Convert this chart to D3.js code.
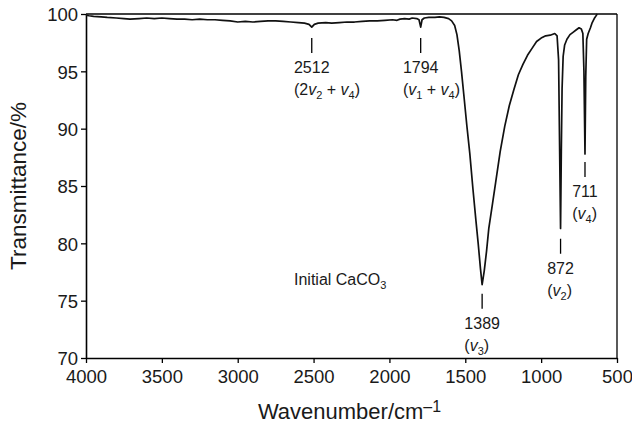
<!DOCTYPE html>
<html><head><meta charset="utf-8">
<script src="https://cdn.jsdelivr.net/npm/d3@7"></script>
<style>
html,body{margin:0;padding:0;background:#fff;}
svg{display:block;font-family:"Liberation Sans",Arial,Helvetica,sans-serif;}
</style></head>
<body>
<svg id="chart" width="632" height="430"></svg>
<script>
// ---- data ----
const wavenumbers = [4000,3980,3950,3900,3860,3800,3750,3710,3650,3600,3550,3500,3450,3400,3350,3300,3250,3200,3150,3100,3050,3000,2950,2900,2850,2800,2750,2700,2650,2600,2560,2530,2512,2495,2470,2420,2380,2330,2280,2230,2180,2130,2080,2030,1980,1950,1930,1900,1870,1850,1820,1805,1794,1785,1770,1740,1700,1670,1640,1610,1590,1570,1555,1540,1525,1510,1490,1470,1450,1430,1415,1400,1389,1375,1360,1345,1320,1300,1270,1240,1210,1180,1150,1120,1090,1060,1030,1000,970,940,910,895,885,878,872,867,862,855,845,830,810,790,770,750,735,725,718,711,706,700,690,675,665,650,635,630];
const transmittance = [99.9,99.85,99.8,99.75,99.7,99.65,99.6,99.55,99.6,99.65,99.6,99.65,99.6,99.55,99.55,99.5,99.55,99.5,99.5,99.45,99.4,99.3,99.35,99.3,99.35,99.4,99.4,99.35,99.3,99.25,99.2,99.1,98.85,99.1,99.2,99.25,99.2,99.25,99.3,99.3,99.35,99.4,99.4,99.45,99.5,99.45,99.55,99.6,99.55,99.65,99.6,99.5,98.85,99.5,99.65,99.7,99.7,99.75,99.7,99.6,99.4,99.0,98.2,96.8,95.0,93.0,90.3,87.8,84.8,82.0,80.0,77.8,76.4,77.6,79.3,81.3,83.5,85.3,88.0,90.2,92.0,93.4,94.7,95.6,96.4,97.0,97.6,97.9,98.1,98.15,98.3,98.1,96.0,88.0,81.3,88.0,93.5,96.3,97.3,97.8,98.2,98.4,98.6,98.8,98.7,98.3,95.0,87.8,94.5,97.8,98.3,98.8,99.2,99.6,99.9,100];
const xTickValues = [4000,3500,3000,2500,2000,1500,1000,500];
const yTickValues = [70,75,80,85,90,95,100];
const peakPositions = [2512,1794,1389,872,711];
const peakNumbers = ["2512","1794","1389","872","711"];
// vibrational mode labels: [text, kind] kind: n normal, i italic, s subscript
const peakModes = [
  [["(2","n"],["v","i"],["2","s"],[" + ","n"],["v","i"],["4","s"],[")","n"]],
  [["(","n"],["v","i"],["1","s"],[" + ","n"],["v","i"],["4","s"],[")","n"]],
  [["(","n"],["v","i"],["3","s"],[")","n"]],
  [["(","n"],["v","i"],["2","s"],[")","n"]],
  [["(","n"],["v","i"],["4","s"],[")","n"]]
];
const xTitle = "Wavenumber/cm";
const yTitle = "Transmittance/%";
const sampleLabel = "Initial CaCO";

// ---- layout ----
const W = 632, H = 430;
const m = {left:86, right:15, top:14, bottom:72};
const svg = d3.select("#chart");
const x = d3.scaleLinear().domain([4000,500]).range([m.left, W - m.right]);
const y = d3.scaleLinear().domain([70,100]).range([H - m.bottom, m.top]);

// frame (top & right)
svg.append("line").attr("x1",x(4000)).attr("x2",x(500)).attr("y1",y(100)).attr("y2",y(100))
  .attr("stroke","#000").attr("stroke-width",1.6);
svg.append("line").attr("x1",x(500)).attr("x2",x(500)).attr("y1",y(100)).attr("y2",y(70))
  .attr("stroke","#000").attr("stroke-width",1.3);

// axes
const xAxis = svg.append("g").attr("transform",`translate(0,${y(70)})`)
  .call(d3.axisBottom(x).tickValues(xTickValues).tickFormat(d3.format("d")).tickSize(5).tickSizeOuter(0).tickPadding(7));
const yAxis = svg.append("g").attr("transform",`translate(${x(4000)},0)`)
  .call(d3.axisLeft(y).tickValues(yTickValues).tickFormat(d3.format("d")).tickSize(5).tickSizeOuter(0).tickPadding(3));
[xAxis,yAxis].forEach(g=>{
  g.select(".domain").attr("stroke","#000").attr("stroke-width",1.6);
  g.selectAll(".tick line").attr("stroke","#000").attr("stroke-width",1.3);
  g.selectAll(".tick text").attr("fill","#1a1a1a").attr("font-size",18.5)
   .attr("font-family","'Liberation Sans',Arial,sans-serif");
});
yAxis.selectAll(".tick text").attr("dy","0.36em");

// titles
svg.append("text").attr("x",(m.left + W - m.right)/2 - 2).attr("y",419).attr("text-anchor","middle")
  .attr("font-size",22).attr("fill","#1a1a1a")
  .call(t=>{t.append("tspan").text(xTitle); t.append("tspan").attr("font-size",16).attr("dy",-7).text("\u20131");});
svg.append("text").attr("transform",`translate(26,${(m.top + H - m.bottom)/2}) rotate(-90)`)
  .attr("text-anchor","middle").attr("font-size",22.5).attr("fill","#1a1a1a").text(yTitle);

// spectrum
const line = d3.line().x((d,i)=>x(wavenumbers[i])).y(d=>y(d));
svg.append("path").datum(transmittance).attr("d",line).attr("fill","none")
  .attr("stroke","#111").attr("stroke-width",1.7).attr("stroke-linejoin","round");

// annotations (tick start in transmittance units, layout only)
const annTop = [97.9,97.9,75.6,80.4,87.1];
const tickLen = 15;
peakPositions.forEach((p,i)=>{
  const px = x(p), ty = y(annTop[i]);
  svg.append("line").attr("x1",px).attr("x2",px).attr("y1",ty).attr("y2",ty+tickLen)
    .attr("stroke","#000").attr("stroke-width",1.3);
  const num = svg.append("text").attr("x",px).attr("y",ty+tickLen+20).attr("text-anchor","middle")
    .attr("font-size",16).attr("fill","#1a1a1a").text(peakNumbers[i]);
  const left = num.node().getBBox().x;
  const t = svg.append("text").attr("x",left).attr("y",ty+tickLen+42).attr("font-size",16).attr("fill","#1a1a1a");
  let shifted = false;
  peakModes[i].forEach(([s,k])=>{
    const ts = t.append("tspan").text(s);
    if(k==="i"){ ts.attr("font-style","italic"); if(shifted){ts.attr("dy",-4); shifted=false;} }
    else if(k==="s"){ ts.attr("font-size",11).attr("dy",4); shifted=true; }
    else { if(shifted){ts.attr("dy",-4); shifted=false;} }
  });
});

// sample label
svg.append("text").attr("x",294).attr("y",285).attr("font-size",16).attr("fill","#1a1a1a")
  .call(t=>{t.append("tspan").text(sampleLabel); t.append("tspan").attr("font-size",11).attr("dy",4).text("3");});
</script>
</body></html>
